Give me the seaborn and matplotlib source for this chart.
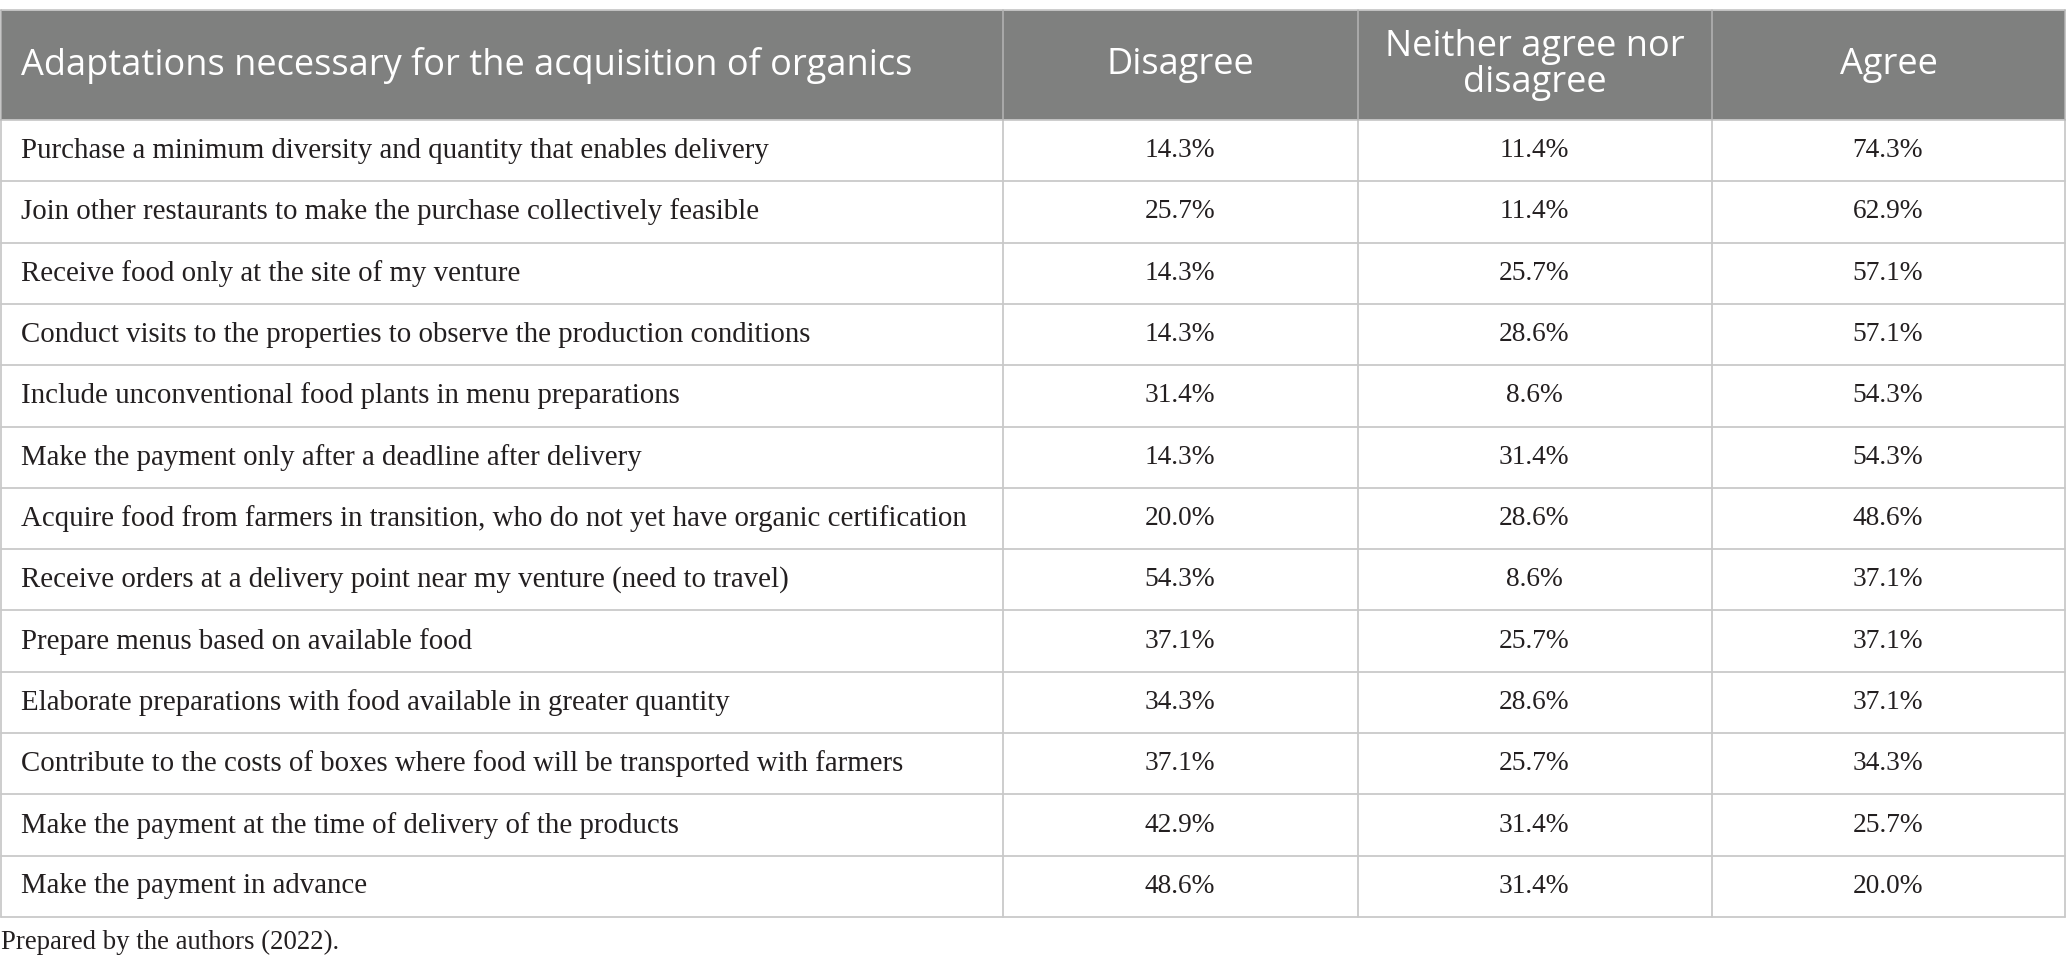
import numpy as np
import pandas as pd
import matplotlib
matplotlib.use("Agg")
import matplotlib.pyplot as plt
from matplotlib.colors import ListedColormap
from matplotlib.patches import Rectangle
import seaborn as sns

# Table content
header_first = "Adaptations necessary for the acquisition of organics"
columns = ["Disagree", "Neither agree nor\ndisagree", "Agree"]

items = [
    "Purchase a minimum diversity and quantity that enables delivery",
    "Join other restaurants to make the purchase collectively feasible",
    "Receive food only at the site of my venture",
    "Conduct visits to the properties to observe the production conditions",
    "Include unconventional food plants in menu preparations",
    "Make the payment only after a deadline after delivery",
    "Acquire food from farmers in transition, who do not yet have organic certification",
    "Receive orders at a delivery point near my venture (need to travel)",
    "Prepare menus based on available food",
    "Elaborate preparations with food available in greater quantity",
    "Contribute to the costs of boxes where food will be transported with farmers",
    "Make the payment at the time of delivery of the products",
    "Make the payment in advance",
]
disagree = [14.3, 25.7, 14.3, 14.3, 31.4, 14.3, 20.0, 54.3, 37.1, 34.3, 37.1, 42.9, 48.6]
neither = [11.4, 11.4, 25.7, 28.6, 8.6, 31.4, 28.6, 8.6, 25.7, 28.6, 25.7, 31.4, 31.4]
agree = [74.3, 62.9, 57.1, 57.1, 54.3, 54.3, 48.6, 37.1, 37.1, 37.1, 34.3, 25.7, 20.0]
footnote = "Prepared by the authors (2022)."

df = pd.DataFrame({"Disagree": disagree, "Neither": neither, "Agree": agree}, index=items)
labels = df.map(lambda v: f"{v:.1f}%")

sns.set_theme(style="white")

W, H = 2067, 973
fig = plt.figure(figsize=(W / 100, H / 100), dpi=100)

# layout in pixels
top, head_bot, body_bot = 10, 120, 917
col_x = [1, 1003, 1358, 1712, 2065]
n = len(items)
row_h = (body_bot - head_bot) / n
line_col = "#c9c9c9"
txt_col = "#231f20"
serif = ["Liberation Serif", "DejaVu Serif"]
sans = ["Open Sans", "DejaVu Sans"]

# numbers drawn as a heatmap with plain white cells
axh = fig.add_axes([col_x[1] / W, 1 - body_bot / H,
                    (col_x[4] - col_x[1]) / W, (body_bot - head_bot) / H])
sns.heatmap(df, ax=axh, cmap=ListedColormap(["white"]), cbar=False,
            annot=labels.values, fmt="", linewidths=0,
            annot_kws={"fontsize": 19.7, "color": txt_col, "family": serif})
axh.set_xticks([])
axh.set_yticks([])
axh.set_xlabel("")
axh.set_ylabel("")

# overlay for header, labels and grid
ax = fig.add_axes([0, 0, 1, 1])
ax.set_xlim(0, W)
ax.set_ylim(H, 0)
ax.axis("off")
ax.patch.set_alpha(0)

ax.add_patch(Rectangle((col_x[0], top), col_x[4] - col_x[0], head_bot - top,
                       facecolor="#7f807f", edgecolor="none"))
head_y = (top + head_bot) / 2
ax.text(21, head_y, header_first, color="white", fontsize=26, family=sans,
        va="center", ha="left")
for i, c in enumerate(columns):
    xc = (col_x[i + 1] + col_x[i + 2]) / 2
    ax.text(xc, head_y, c, color="white", fontsize=26, family=sans,
            va="center", ha="center", linespacing=1.0)

for i, it in enumerate(items):
    yc = head_bot + (i + 0.5) * row_h
    ax.text(21, yc, it, color=txt_col, fontsize=20.8, family=serif,
            va="center", ha="left")

# grid lines
for i in range(n + 1):
    y = head_bot + i * row_h
    ax.plot([col_x[0], col_x[4]], [y, y], color=line_col, lw=1.3)
ax.plot([col_x[0], col_x[4]], [top, top], color=line_col, lw=1.3)
for x in col_x:
    ax.plot([x, x], [head_bot, body_bot], color=line_col, lw=1.3)
    ax.plot([x, x], [top, head_bot], color="#b5b5b5", lw=1.1)

ax.text(1, 942, footnote, color=txt_col, fontsize=19.3, family=serif,
        va="center", ha="left")

fig.savefig("out.png", dpi=100)
